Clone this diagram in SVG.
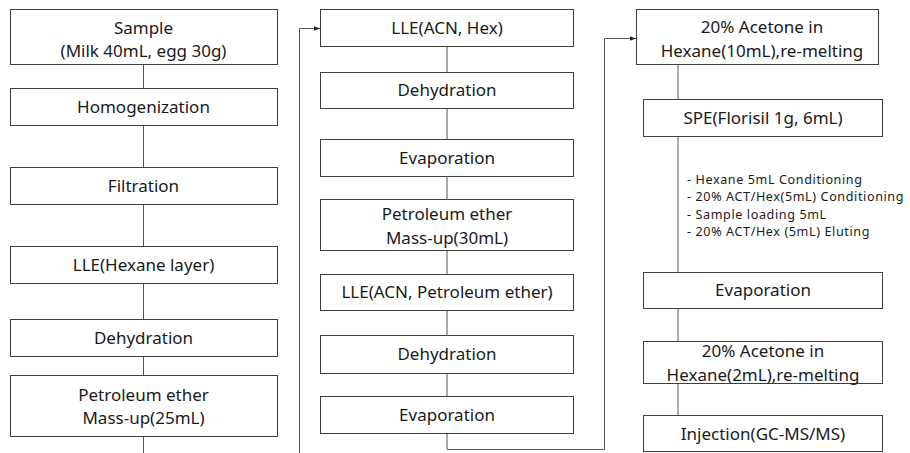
<svg xmlns="http://www.w3.org/2000/svg" width="910" height="453" viewBox="0 0 910 453">
<style>
.box{fill:#fff;stroke:#3f3f3f;stroke-width:1}
.t{font-family:"Noto Sans","Noto Sans CJK KR",sans-serif;font-size:17px;fill:#1a1a1a;text-anchor:middle}
.s{font-family:"Noto Sans","Noto Sans CJK KR",sans-serif;font-size:12.6px;letter-spacing:0.6px;fill:#1a1a1a}
.ln{fill:none;stroke:#555;stroke-width:1}
</style>
<defs>
<marker id="ah" viewBox="0 0 8 8" refX="8" refY="4" markerWidth="6" markerHeight="6" orient="auto" markerUnits="userSpaceOnUse">
<path d="M0,1 L8,4 L0,7 z" fill="#222"/>
</marker>
</defs>
<rect width="910" height="453" fill="#fff"/>
<g id="connectors">
<line class="ln" x1="143.5" y1="64" x2="143.5" y2="88"/>
<line class="ln" x1="143.5" y1="125" x2="143.5" y2="167"/>
<line class="ln" x1="143.5" y1="204" x2="143.5" y2="246"/>
<line class="ln" x1="143.5" y1="283" x2="143.5" y2="319"/>
<line class="ln" x1="143.5" y1="356" x2="143.5" y2="375"/>
<path class="ln" d="M143.5,436 V458 H299.5 V28.5 H320" marker-end="url(#ah)"/>
<line class="ln" x1="447" y1="46" x2="447" y2="72"/>
<line class="ln" x1="447" y1="108" x2="447" y2="139"/>
<line class="ln" x1="447" y1="176" x2="447" y2="199"/>
<line class="ln" x1="447" y1="250" x2="447" y2="274"/>
<line class="ln" x1="447" y1="310" x2="447" y2="335"/>
<line class="ln" x1="447" y1="373" x2="447" y2="396"/>
<path class="ln" d="M447,433 V449.5 H604.5 V38.5 H636" marker-end="url(#ah)"/>
<line class="ln" x1="678" y1="64" x2="678" y2="99"/>
<line class="ln" x1="678" y1="136" x2="678" y2="272"/>
<line class="ln" x1="678" y1="308" x2="678" y2="341"/>
<line class="ln" x1="678" y1="383" x2="678" y2="415"/>
</g>
<g id="sample"><rect class="box" x="10.5" y="9.5" width="267" height="55"/><text class="t" x="143.5" y="33.5">Sample</text><text class="t" x="143.5" y="57">(Milk 40mL, egg 30g)</text></g>
<g id="homogenization"><rect class="box" x="10.5" y="88.5" width="267" height="37"/><text class="t" x="143.5" y="113">Homogenization</text></g>
<g id="filtration"><rect class="box" x="10.5" y="167.5" width="267" height="37"/><text class="t" x="143.5" y="192">Filtration</text></g>
<g id="lle-hexane"><rect class="box" x="10.5" y="246.5" width="267" height="37"/><text class="t" x="143.5" y="271">LLE(Hexane layer)</text></g>
<g id="dehydration1"><rect class="box" x="10.5" y="319.5" width="267" height="37"/><text class="t" x="143.5" y="344">Dehydration</text></g>
<g id="petroleum25"><rect class="box" x="10.5" y="375.5" width="267" height="61"/><text class="t" x="143.5" y="400.5">Petroleum ether</text><text class="t" x="143.5" y="424">Mass-up(25mL)</text></g>
<g id="lle-acn-hex"><rect class="box" x="320.5" y="9.5" width="253" height="37"/><text class="t" x="447" y="34">LLE(ACN, Hex)</text></g>
<g id="dehydration2"><rect class="box" x="320.5" y="72.5" width="253" height="36"/><text class="t" x="447" y="96">Dehydration</text></g>
<g id="evaporation1"><rect class="box" x="320.5" y="139.5" width="253" height="37"/><text class="t" x="447" y="164">Evaporation</text></g>
<g id="petroleum30"><rect class="box" x="320.5" y="199.5" width="253" height="51"/><text class="t" x="447" y="220">Petroleum ether</text><text class="t" x="447" y="243.5">Mass-up(30mL)</text></g>
<g id="lle-acn-pe"><rect class="box" x="320.5" y="274.5" width="253" height="36"/><text class="t" x="447" y="298">LLE(ACN, Petroleum ether)</text></g>
<g id="dehydration3"><rect class="box" x="320.5" y="335.5" width="253" height="38"/><text class="t" x="447" y="360">Dehydration</text></g>
<g id="evaporation2"><rect class="box" x="320.5" y="396.5" width="253" height="37"/><text class="t" x="447" y="421">Evaporation</text></g>
<g id="acetone10"><rect class="box" x="636.5" y="9.5" width="242" height="55"/><text class="t" x="762" y="33">20% Acetone in</text><text class="t" x="762" y="56.5">Hexane(10mL),re-melting</text></g>
<g id="spe"><rect class="box" x="643.5" y="99.5" width="239" height="37"/><text class="t" x="763" y="124">SPE(Florisil 1g, 6mL)</text></g>
<g id="spe-notes"><text class="s" x="687" y="183.5">- Hexane 5mL Conditioning</text><text class="s" x="687" y="201">- 20% ACT/Hex(5mL) Conditioning</text><text class="s" x="687" y="218.5">- Sample loading 5mL</text><text class="s" x="687" y="236">- 20% ACT/Hex (5mL) Eluting</text></g>
<g id="evaporation3"><rect class="box" x="643.5" y="272.5" width="239" height="36"/><text class="t" x="763" y="296">Evaporation</text></g>
<g id="acetone2"><rect class="box" x="643.5" y="341.5" width="239" height="42"/><text class="t" x="763" y="357">20% Acetone in</text><text class="t" x="763" y="380.5">Hexane(2mL),re-melting</text></g>
<g id="injection"><rect class="box" x="643.5" y="415.5" width="239" height="36"/><text class="t" x="763" y="440">Injection(GC-MS/MS)</text></g>
</svg>
